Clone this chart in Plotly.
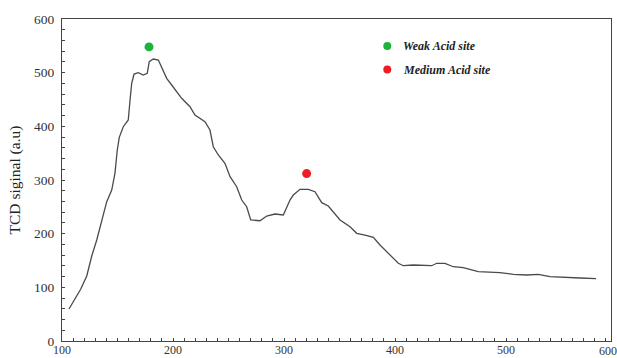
import plotly.graph_objects as go

# Curve data (temperature, TCD signal)
temperature = [106.3, 110.2, 116.8, 122.3, 126.8, 131.3, 135.8, 140.3, 144.8, 147.7,
               149.8, 151.6, 155.2, 159.7, 161.3, 162.8, 164.9, 168.7, 173.2, 176.8,
               178.6, 182.3, 186.8, 189.8, 194.3, 198.8, 203.3, 207.8, 215.3, 219.8,
               228.8, 233.3, 236.3, 240.8, 246.8, 251.4, 257.4, 261.9, 266.4, 270.0,
               278.4, 284.4, 291.9, 299.4, 305.4, 308.4, 314.4, 321.9, 327.9, 334.0,
               339.9, 345.9, 350.5, 359.5, 365.5, 373.0, 380.5, 386.5, 392.5, 398.5,
               403.0, 407.5, 416.5, 433.1, 437.6, 445.0, 452.5, 461.5, 475.0, 494.6,
               506.6, 518.6, 529.1, 539.6, 554.7, 566.7, 581.1]
signal = [59.6, 73.2, 96.3, 121.1, 158.4, 188.2, 225.5, 259.6, 281.3, 312.5,
          355.9, 379.5, 399.3, 411.8, 449.0, 480.2, 497.5, 499.9, 495.6, 498.8,
          520.4, 525.4, 523.6, 511.1, 489.5, 477.0, 464.5, 452.2, 436.6, 421.1,
          408.6, 393.1, 362.0, 346.6, 331.1, 306.1, 287.5, 262.7, 250.2, 225.5,
          224.1, 232.9, 236.6, 234.8, 262.7, 272.0, 282.7, 282.7, 278.2, 257.7,
          251.5, 237.9, 225.5, 213.0, 200.7, 197.5, 193.2, 178.9, 166.4, 154.1,
          144.8, 140.3, 141.6, 140.3, 144.8, 144.8, 138.4, 136.6, 129.1, 127.3,
          124.3, 123.0, 124.3, 119.8, 117.9, 117.4, 116.1]

# Acid site markers
site_names = ["Weak Acid site", "Medium Acid site"]
site_x = [178.4, 320.4]
site_y = [548, 312]
site_colors = ["#1db33c", "#ee1c25"]

x_ticks = [100, 200, 300, 400, 500]
y_ticks = [0, 100, 200, 300, 400, 500, 600]

FONT = "Liberation Serif"
AX = "#444444"

fig = go.Figure()
fig.add_trace(go.Scatter(x=temperature, y=signal, mode="lines",
                         line=dict(color="#4a4a4a", width=1.3),
                         showlegend=False, hoverinfo="skip"))
for n, xv, yv, c in zip(site_names, site_x, site_y, site_colors):
    fig.add_trace(go.Scatter(x=[xv], y=[yv], mode="markers", name=n,
                             marker=dict(color=c, size=9), showlegend=False))

fig.update_xaxes(range=[100, 594.6], tickvals=x_ticks, ticktext=[str(v) for v in x_ticks],
                 automargin=False,
                 showline=True, linecolor=AX, linewidth=1.3, mirror=True,
                 ticks="inside", ticklen=3, tickcolor=AX, tickwidth=1.2,
                 minor=dict(ticks="inside", ticklen=3, dtick=10, tick0=100,
                            tickcolor=AX, tickwidth=1),
                 showgrid=False, zeroline=False, ticklabelstandoff=-3,
                 tickfont=dict(family=FONT, size=12, color="#333"))
fig.update_yaxes(range=[0, 600], tickvals=y_ticks, automargin=False,
                 showline=True, linecolor=AX, linewidth=1.3, mirror=True,
                 ticks="inside", ticklen=3, tickcolor=AX, tickwidth=1.2,
                 minor=dict(ticks="inside", ticklen=3, dtick=20, tick0=0,
                            tickcolor=AX, tickwidth=1),
                 showgrid=False, zeroline=False,
                 ticklabelstandoff=4,
                 tickfont=dict(family=FONT, size=13.5, color="#333"),
                 title=dict(text="TCD siginal (a.u)", standoff=9,
                            font=dict(family=FONT, size=15.5, color="#222")))

# "600" label at the clipped right end of the x axis
fig.add_annotation(text="600", xref="paper", yref="paper", x=0.9945, y=0.0,
                   showarrow=False, font=dict(family=FONT, size=12, color="#333"),
                   xanchor="center", yanchor="top", yshift=-1)

# Legend (symbols + bold italic text)
leg_y = [0.916, 0.843]
for n, c, ly in zip(site_names, site_colors, leg_y):
    fig.add_shape(type="circle", xref="paper", yref="paper", xsizemode="pixel",
                  ysizemode="pixel", xanchor=0.5925, yanchor=ly,
                  x0=-4, x1=4, y0=-4, y1=4, fillcolor=c, line=dict(width=0))
    fig.add_annotation(text=n, xref="paper", yref="paper", x=0.6175, y=ly,
                       xanchor="left", yanchor="middle", showarrow=False,
                       font=dict(family=FONT, size=12, color="#222",
                                 weight="bold", style="italic"))

fig.update_layout(width=617, height=358, margin=dict(l=62, r=6, t=19, b=17),
                  plot_bgcolor="white", paper_bgcolor="white", showlegend=False)
fig.write_html("out.html")
